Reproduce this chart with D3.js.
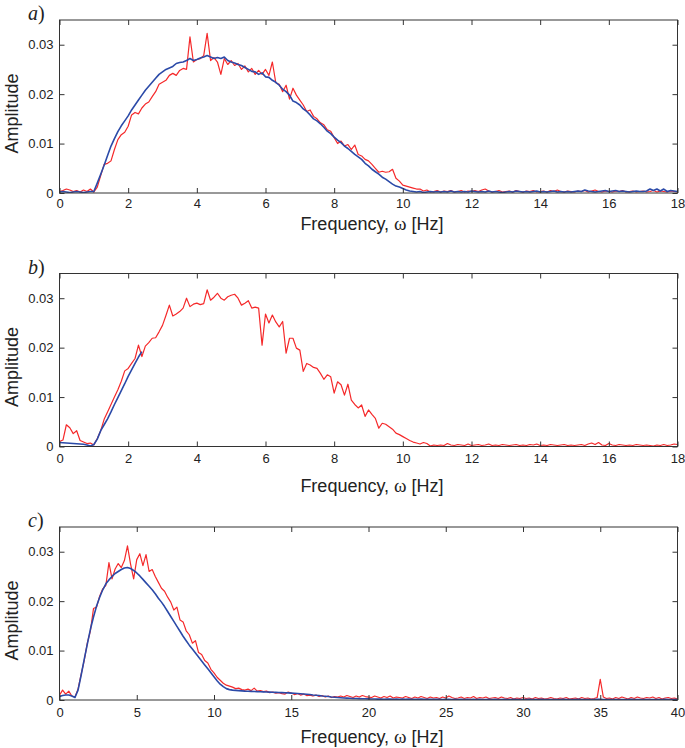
<!DOCTYPE html>
<html><head><meta charset="utf-8">
<script src="https://cdn.jsdelivr.net/npm/d3@7"></script>
<style>body{margin:0;background:#fff}svg{display:block}</style>
</head><body><svg id="c" width="685" height="748"></svg>
<script>
// ---- data (amplitude in units of 1e-3) ----
const stepAB = 0.1;   // frequency bin step for panels a, b [Hz]
const stepC = 0.2;    // frequency bin step for panel c [Hz]

const aRed = [
0.3,0.5,0.8,0.6,0.3,0.5,0.2,0.6,0.3,0.8,0.2,
1.2,3.5,5.8,6.0,6.5,8.8,10.8,11.8,12.3,13.5,
15.8,16.3,16.0,17.2,18.0,18.4,19.5,20.5,22.0,22.4,
22.8,23.8,24.2,23.8,24.8,25.2,25.0,31.6,26.5,27.0,
27.2,27.8,32.3,26.8,27.4,26.5,24.0,27.2,26.0,26.8,
25.8,26.2,25.0,25.7,24.5,25.2,24.0,24.8,24.0,25.0,
23.8,26.5,22.3,22.0,20.5,21.8,19.0,21.2,19.8,18.8,
17.8,16.5,16.8,15.5,15.0,14.2,13.8,12.8,12.5,11.2,
10.0,10.5,9.5,9.8,8.8,9.7,7.8,7.5,6.8,6.5,
5.8,5.0,4.2,4.4,4.2,4.3,4.8,3.0,2.4,1.6,
1.4,1.2,1.0,0.8,0.8,0.4,0.6,0.2,0.3,0.5,
0.2,0.4,0.3,0.5,0.2,0.3,0.5,0.2,0.4,0.3,
0.5,0.3,0.6,0.8,0.4,0.2,0.3,0.5,0.2,0.3,
0.4,0.2,0.5,0.3,0.2,0.4,0.3,0.5,0.2,0.3,
0.4,0.2,0.5,0.3,0.6,0.3,0.2,0.4,0.3,0.2,
0.4,0.3,0.5,0.2,0.4,0.6,0.3,0.2,0.4,0.3,
0.2,0.4,0.3,0.5,0.2,0.3,0.4,0.2,0.3,0.4,
0.2,0.3,0.5,0.2,0.4,0.3,0.2,0.4,0.3,0.2];

const aBlue = [
0.2,0.3,0.2,0.1,0.2,0.3,0.2,0.1,0.2,0.3,0.3,
2.0,3.8,5.6,7.6,9.5,11.0,12.4,13.6,14.6,15.6,
16.8,17.8,18.8,19.8,20.8,21.6,22.4,23.2,24.0,24.5,
25.0,25.3,25.6,26.2,26.4,26.5,26.8,27.2,26.8,27.0,
27.3,27.5,27.8,27.5,27.2,27.4,27.2,27.5,26.8,26.5,
26.3,26.0,25.8,25.4,25.0,24.6,24.5,24.0,24.3,23.5,
23.4,22.8,22.4,21.8,21.0,20.5,19.8,18.6,18.3,17.8,
17.0,16.5,15.8,15.0,14.6,14.0,13.3,12.5,12.0,11.3,
10.7,10.2,9.5,9.0,8.4,7.8,7.3,6.8,6.0,5.5,
4.8,4.3,3.8,3.2,2.8,2.3,1.8,1.4,1.2,0.9,
0.6,0.4,0.3,0.2,0.3,0.1,0.2,0.3,0.2,0.3,
0.2,0.3,0.2,0.4,0.2,0.3,0.2,0.3,0.2,0.4,
0.3,0.2,0.3,0.2,0.4,0.2,0.3,0.2,0.1,0.2,
0.3,0.2,0.4,0.3,0.2,0.3,0.2,0.3,0.4,0.2,
0.3,0.2,0.3,0.4,0.2,0.3,0.2,0.3,0.2,0.3,
0.4,0.3,0.6,0.4,0.3,0.2,0.3,0.4,0.5,0.3,
0.4,0.5,0.3,0.4,0.3,0.2,0.3,0.4,0.3,0.3,
0.4,0.8,0.5,0.8,0.4,0.8,0.3,0.5,0.4,0.3];

const bRed = [
1.0,1.3,4.4,3.8,2.6,3.2,1.2,0.9,0.6,0.7,0.3,
1.6,3.2,5.5,7.0,8.5,10.0,11.5,13.2,15.3,15.8,
16.8,17.8,20.5,18.2,20.3,21.0,21.9,22.0,23.2,24.5,
26.5,28.6,26.4,26.8,27.3,28.0,30.0,28.3,28.8,29.0,
28.7,28.9,31.7,29.6,30.2,31.0,30.0,29.6,30.3,30.6,
30.8,30.0,28.6,29.0,29.5,28.0,28.2,28.0,20.5,26.8,
25.0,26.6,25.2,24.2,25.3,18.9,21.9,21.9,19.9,19.5,
15.2,16.8,16.5,16.0,15.8,14.8,13.6,14.5,14.1,10.8,
13.1,12.5,10.4,12.6,9.4,8.5,7.8,8.4,6.1,7.4,
6.5,5.7,3.7,4.7,4.5,4.0,3.5,2.7,2.4,2.0,
1.6,1.2,0.9,0.7,0.5,0.8,0.6,0.1,0.3,0.2,
0.3,0.2,0.6,0.3,0.2,0.4,0.3,0.2,0.5,0.2,
0.3,0.4,0.2,0.3,0.5,0.2,0.3,0.2,0.4,0.3,
0.2,0.3,0.4,0.2,0.3,0.2,0.4,0.3,0.5,0.2,
0.3,0.2,0.4,0.3,0.2,0.3,0.4,0.2,0.3,0.2,
0.3,0.4,0.2,0.5,0.7,0.4,0.8,0.3,0.2,0.6,
0.3,0.2,0.4,0.3,0.2,0.3,0.2,0.4,0.3,0.2,
0.3,0.2,0.1,0.3,0.2,0.4,0.2,0.3,0.5,0.4];

const bBlue = [
0.8,0.75,0.7,0.65,0.6,0.55,0.5,0.45,0.3,0.1,0.4,
1.5,3.2,4.4,5.6,7.0,8.5,9.9,11.3,12.7,14.2,
15.5,16.8,18.1,19.2];

const cRed = [
1.0,2.0,1.2,1.8,0.8,0.6,2.2,5.2,8.0,11.5,14.0,
18.5,18.8,21.0,22.5,23.2,27.8,24.5,26.5,27.6,26.8,
28.2,31.2,27.5,24.5,28.4,29.6,27.2,29.4,26.0,26.4,
25.0,23.8,22.6,22.0,20.8,19.8,18.2,18.8,16.2,15.8,
14.0,13.2,11.5,12.0,9.6,9.2,8.0,7.5,6.2,5.5,
4.6,4.0,3.4,3.0,2.8,2.6,2.3,2.4,2.1,2.0,
2.2,1.9,2.4,1.8,1.9,1.7,1.8,1.5,1.6,1.4,
1.5,1.3,1.2,1.6,1.4,1.1,1.3,1.0,1.2,0.9,
1.0,0.8,1.0,0.7,0.9,0.6,0.8,0.5,0.7,0.6,
0.8,0.6,0.9,0.7,0.5,0.8,0.6,0.9,0.7,0.6,
0.5,0.8,0.6,0.4,0.7,0.5,0.8,0.4,0.6,0.5,
0.4,0.7,0.5,0.3,0.6,0.4,0.7,0.5,0.3,0.6,
0.4,0.5,0.3,0.6,0.4,0.8,0.5,0.3,0.4,0.6,
0.3,0.5,0.4,0.7,0.3,0.5,0.4,0.6,0.3,0.4,
0.5,0.3,0.6,0.4,0.3,0.5,0.2,0.4,0.3,0.5,
0.3,0.4,0.2,0.5,0.3,0.4,0.2,0.3,0.5,0.3,
0.2,0.4,0.3,0.5,0.2,0.3,0.4,0.2,0.5,0.3,
0.4,0.2,0.3,0.5,4.2,0.6,0.3,0.4,0.2,0.5,
0.3,0.6,0.4,0.2,0.5,0.3,0.6,0.4,0.3,0.5,
0.4,0.6,0.3,0.5,0.2,0.4,0.5,0.3,0.4,0.2];

const cBlue = [
0.7,0.9,1.0,1.0,0.8,0.5,2.0,5.0,8.2,11.3,14.3,
16.8,19.0,20.8,22.3,23.5,24.3,25.0,25.6,26.0,26.4,
26.7,26.8,26.6,26.2,25.7,25.1,24.4,23.7,23.0,22.3,
21.5,20.6,19.8,18.9,17.9,16.9,15.9,14.9,13.9,12.9,
12.0,11.1,10.3,9.5,8.7,7.9,7.1,6.3,5.5,4.7,
3.9,3.2,2.7,2.3,2.1,2.0,1.95,1.9,1.85,1.8,
1.78,1.75,1.72,1.7,1.68,1.65,1.62,1.6,1.57,1.55,
1.52,1.5,1.47,1.44,1.4,1.35,1.3,1.25,1.2,1.15,
1.1,1.0,0.95,0.9,0.8,0.75,0.7,0.6,0.55,0.5,
0.45,0.4,0.38,0.35,0.3,0.3,0.28,0.25,0.25,0.22,
0.2,0.2,0.18,0.2,0.15,0.2,0.18,0.15,0.2,0.15,
0.18,0.15,0.2,0.15,0.12,0.15,0.18,0.12,0.15,0.12,
0.15,0.12,0.15,0.1,0.12,0.15,0.1,0.12,0.1,0.12,
0.1,0.12,0.1,0.15,0.1,0.12,0.1,0.1,0.12,0.1,
0.12,0.1,0.1,0.12,0.1,0.1,0.12,0.1,0.1,0.1,
0.1,0.12,0.1,0.1,0.1,0.12,0.1,0.1,0.1,0.1,
0.1,0.1,0.12,0.1,0.1,0.1,0.1,0.12,0.1,0.1,
0.1,0.1,0.1,0.12,0.15,0.1,0.1,0.1,0.1,0.1,
0.1,0.1,0.1,0.1,0.12,0.1,0.1,0.1,0.1,0.1,
0.1,0.1,0.1,0.1,0.1,0.12,0.1,0.1,0.1,0.1];

const xTicksAB = [0,2,4,6,8,10,12,14,16,18];
const xTicksC = [0,5,10,15,20,25,30,35,40];
const yTicks = [0,10,20,30];
const yTickLabels = ["0","0.01","0.02","0.03"];
const panelLetters = ["a","b","c"];
const xLabelText = "Frequency, ";
const yLabelText = "Amplitude";

// ---- drawing ----
const svg = d3.select("#c");
const RED = "#f5292a", BLUE = "#2b4aa8", AX = "#333";
const FONT = "'Liberation Sans', Arial, Helvetica, sans-serif";

const panels = [
  {letter: panelLetters[0], top: 20, bottom: 193, xmax: 18, ticks: xTicksAB, step: stepAB, red: aRed, blue: aBlue, xlab: 230, tpad: 5.5},
  {letter: panelLetters[1], top: 273.5, bottom: 446.5, xmax: 18, ticks: xTicksAB, step: stepAB, red: bRed, blue: bBlue, xlab: 492, tpad: 7.5},
  {letter: panelLetters[2], top: 527, bottom: 700, xmax: 40, ticks: xTicksC, step: stepC, red: cRed, blue: cBlue, xlab: 743, tpad: 7.5}
];
const L = 59.5, R = 677.5;

panels.forEach(p => {
  const x = d3.scaleLinear().domain([0, p.xmax]).range([L, R]);
  const y = d3.scaleLinear().domain([0, 35]).range([p.bottom, p.top]);
  const g = svg.append("g");

  const clipId = "clip" + p.letter;
  svg.append("clipPath").attr("id", clipId).append("rect")
    .attr("x", L).attr("y", p.top).attr("width", R - L).attr("height", p.bottom - p.top);

  const line = d3.line().x(d => x(d[0])).y(d => y(d[1]));
  const toPts = arr => arr.map((v, i) => [i * p.step, v]);

  g.append("path").datum(toPts(p.red)).attr("d", line)
    .attr("fill", "none").attr("stroke", RED).attr("stroke-width", 1.2)
    .attr("stroke-linejoin", "round").attr("clip-path", `url(#${clipId})`);
  g.append("path").datum(toPts(p.blue)).attr("d", line)
    .attr("fill", "none").attr("stroke", BLUE).attr("stroke-width", 1.6)
    .attr("stroke-linejoin", "round").attr("clip-path", `url(#${clipId})`);

  // axes
  const axB = d3.axisBottom(x).tickValues(p.ticks).tickSize(-5).tickPadding(p.tpad).tickFormat(d3.format("d"));
  const axT = d3.axisTop(x).tickValues(p.ticks).tickSize(-5).tickFormat("");
  const axL = d3.axisLeft(y).tickValues(yTicks).tickSize(-5).tickPadding(6).tickFormat((d, i) => yTickLabels[i]);
  const axR = d3.axisRight(y).tickValues(yTicks).tickSize(-5).tickFormat("");

  const style = sel => {
    sel.select(".domain").remove();
    sel.selectAll("line").attr("stroke", AX);
    sel.selectAll("text").attr("fill", "#222").style("font-family", FONT).style("font-size", "13px");
  };
  g.append("g").attr("transform", `translate(0,${p.bottom})`).call(axB).call(style);
  g.append("g").attr("transform", `translate(0,${p.top})`).call(axT).call(style);
  g.append("g").attr("transform", `translate(${L},0)`).call(axL).call(style);
  g.append("g").attr("transform", `translate(${R},0)`).call(axR).call(style);

  g.append("rect").attr("x", L).attr("y", p.top).attr("width", R - L).attr("height", p.bottom - p.top)
    .attr("fill", "none").attr("stroke", AX).attr("stroke-width", 1);

  // labels
  const xl = g.append("text").attr("x", 372).attr("y", p.xlab).attr("text-anchor", "middle")
    .style("font-family", FONT).style("font-size", "18px").attr("fill", "#222");
  xl.append("tspan").text(xLabelText);
  xl.append("tspan").style("font-family", "'Liberation Serif', 'Times New Roman', serif").style("font-size", "19px").text("ω");
  xl.append("tspan").text(" [Hz]");

  g.append("text").attr("transform", `translate(18,${(p.top + p.bottom) / 2 + 7}) rotate(-90)`)
    .attr("text-anchor", "middle").style("font-family", FONT).style("font-size", "18px")
    .attr("fill", "#222").text(yLabelText);

  const pl = g.append("text").attr("x", 28).attr("y", p.top)
    .style("font-family", "'Liberation Serif', 'Times New Roman', serif").style("font-size", "20px").attr("fill", "#222");
  pl.append("tspan").style("font-style", "italic").text(p.letter);
  pl.append("tspan").text(")");
});
</script></body></html>
